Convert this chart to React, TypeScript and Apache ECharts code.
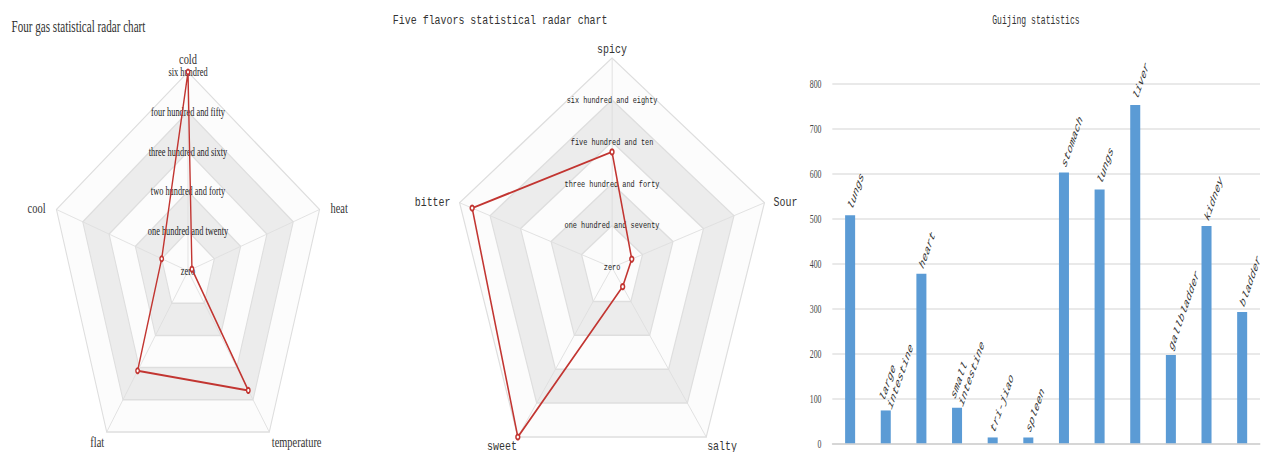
import React, { useEffect, useRef } from 'react';
import * as echarts from 'echarts';

// ---------- data ----------
const fourGasTitle = 'Four gas statistical radar chart';
const fourGasIndicators = ['cold', 'cool', 'flat', 'temperature', 'heat'];
const fourGasValues = [600, 120, 372, 445, 18];
const fourGasMax = 600;
const fourGasTickLabels = [
  'zero',
  'one hundred and twenty',
  'two hundred and forty',
  'three hundred and sixty',
  'four hundred and fifty',
  'six hundred',
];

const flavorTitle = 'Five flavors statistical radar chart';
const flavorIndicators = ['spicy', 'bitter', 'sweet', 'salty', 'Sour'];
const flavorValues = [469, 780, 850, 96, 110];
const flavorMax = 850;
const flavorTickLabels = [
  'zero',
  'one hundred and seventy',
  'three hundred and forty',
  'five hundred and ten',
  'six hundred and eighty',
  '',
];

const guijingTitle = 'Guijing statistics';
const guijingCategories = [
  'lungs',
  'large intestine',
  'heart',
  'small intestine',
  'tri-jiao',
  'spleen',
  'stomach',
  'lungs',
  'liver',
  'gallbladder',
  'kidney',
  'bladder',
];
const guijingValues = [507, 73, 377, 79, 13, 13, 602, 564, 752, 196, 483, 292];
const guijingAxisMax = 800;
const guijingAxisStep = 100;

// ---------- styles ----------
const RED = '#c23531';
const LINE_GREY = '#dedede';

// name-label placement style per indicator slot (top, upper-left, lower-left, lower-right, upper-right)
const slotStyle = ['top', 'side', 'bottom', 'bottom', 'side'];

function radarOption(
  title: string,
  names: string[],
  values: number[],
  max: number,
  tickLabels: string[],
  cfg: {
    titleLeft: number;
    titleTop: number;
    center: [number, number];
    radius: number;
    font: string;
    titleSize: number;
    nameSize: number;
    labelSize: number;
    nameGap: number;
    sidePad: number;
    bottomPad: number;
  }
) {
  const nameStyle = { color: '#333', fontFamily: cfg.font, fontSize: cfg.nameSize };
  return {
    animation: false,
    title: {
      text: title,
      left: cfg.titleLeft,
      top: cfg.titleTop,
      textStyle: {
        fontFamily: cfg.font,
        fontSize: cfg.titleSize,
        fontWeight: 'normal',
        color: '#333',
      },
    },
    radar: {
      center: cfg.center,
      radius: cfg.radius,
      shape: 'polygon',
      splitNumber: 5,
      nameGap: cfg.nameGap,
      axisName: {
        ...nameStyle,
        formatter: (name: string) => {
          const idx = names.indexOf(name);
          return `{${slotStyle[idx] || 'top'}|${name}}`;
        },
        rich: {
          top: { ...nameStyle },
          side: { ...nameStyle, padding: [0, cfg.sidePad] },
          bottom: { ...nameStyle, padding: [cfg.bottomPad, 0, 0, 0] },
        },
      },
      indicator: names.map((n, i) =>
        i === 0
          ? { name: n, min: 0, max, axisLabel: { show: true } }
          : { name: n, min: 0, max }
      ),
      axisLabel: {
        show: false,
        margin: 0,
        align: 'center',
        verticalAlign: 'middle',
        color: '#222',
        fontFamily: cfg.font,
        fontSize: cfg.labelSize,
        formatter: (_v: number, idx: number) => tickLabels[idx] ?? '',
      },
      axisTick: { show: false },
      axisLine: { lineStyle: { color: LINE_GREY, width: 1 } },
      splitLine: { lineStyle: { color: LINE_GREY, width: 1.5 } },
      splitArea: {
        show: true,
        areaStyle: {
          color: ['rgba(250,250,250,0.6)', 'rgba(200,200,200,0.35)'],
        },
      },
    },
    series: [
      {
        type: 'radar',
        symbol: 'emptyCircle',
        symbolSize: 5,
        lineStyle: { color: RED, width: 2 },
        itemStyle: { color: RED },
        data: [{ value: values, name: title }],
      },
    ],
  };
}

function barOption() {
  return {
    animation: false,
    title: {
      text: guijingTitle,
      left: 332,
      top: 8,
      textStyle: {
        fontFamily: '"Liberation Mono", monospace',
        fontSize: 13.5,
        fontWeight: 'normal',
        color: '#333',
      },
    },
    grid: { left: 70.5, right: 4.7, top: 83.3, bottom: 8.7, containLabel: false },
    xAxis: {
      type: 'category',
      data: guijingCategories,
      axisLine: { lineStyle: { color: '#d0d0d0', width: 1.5 } },
      axisTick: { show: false },
      axisLabel: { show: false },
    },
    yAxis: {
      type: 'value',
      min: 0,
      max: guijingAxisMax,
      interval: guijingAxisStep,
      axisLine: { show: false },
      axisTick: { show: false },
      axisLabel: {
        margin: 18,
        color: '#444',
        fontFamily: '"Liberation Serif", serif',
        fontSize: 13,
      },
      splitLine: { lineStyle: { color: '#e2e2e2', width: 1.5 } },
    },
    series: [
      {
        type: 'bar',
        data: guijingValues,
        barWidth: 16.7,
        itemStyle: { color: '#5b9bd5' },
        label: {
          show: true,
          position: 'top',
          distance: 6,
          rotate: 60,
          align: 'left',
          verticalAlign: 'middle',
          fontFamily: '"Liberation Mono", monospace',
          fontStyle: 'italic',
          fontSize: 13.5,
          lineHeight: 15,
          color: '#333',
          formatter: (p: any) => String(p.name).replace(' ', '\n'),
        },
      },
    ],
  };
}

function Panel(props: { left: number; width: number; scale: number; option: any }) {
  const ref = useRef<HTMLDivElement>(null);
  useEffect(() => {
    if (!ref.current) return;
    const chart = echarts.init(ref.current, null, { renderer: 'svg' });
    chart.setOption(props.option);
    return () => chart.dispose();
  }, []);
  return (
    <div
      ref={ref}
      style={{
        position: 'absolute',
        left: props.left,
        top: 0,
        width: props.width,
        height: 452,
        transform: `scaleX(${props.scale})`,
        transformOrigin: '0 0',
      }}
    />
  );
}

export default function App() {
  const leftOpt = radarOption(fourGasTitle, fourGasIndicators, fourGasValues, fourGasMax, fourGasTickLabels, {
    titleLeft: 11.5,
    titleTop: 14,
    center: [270.5, 271],
    radius: 199,
    font: '"Liberation Serif", serif',
    titleSize: 16,
    nameSize: 15,
    labelSize: 12,
    nameGap: 6,
    sidePad: 10,
    bottomPad: 10,
  });
  const midOpt = radarOption(flavorTitle, flavorIndicators, flavorValues, flavorMax, flavorTickLabels, {
    titleLeft: 11.8,
    titleTop: 9,
    center: [303.3, 267.5],
    radius: 209.5,
    font: '"Liberation Mono", monospace',
    titleSize: 13,
    nameSize: 13,
    labelSize: 9,
    nameGap: 2,
    sidePad: 10,
    bottomPad: 14,
  });
  return (
    <div
      style={{
        position: 'absolute',
        left: 0,
        top: 0,
        width: 1263,
        height: 452,
        overflow: 'hidden',
        background: '#fff',
      }}
    >
      <Panel left={0} width={540} scale={0.695} option={leftOpt} />
      <Panel left={380} width={590} scale={0.765} option={midOpt} />
      <Panel left={790} width={788} scale={0.6} option={barOption()} />
    </div>
  );
}
